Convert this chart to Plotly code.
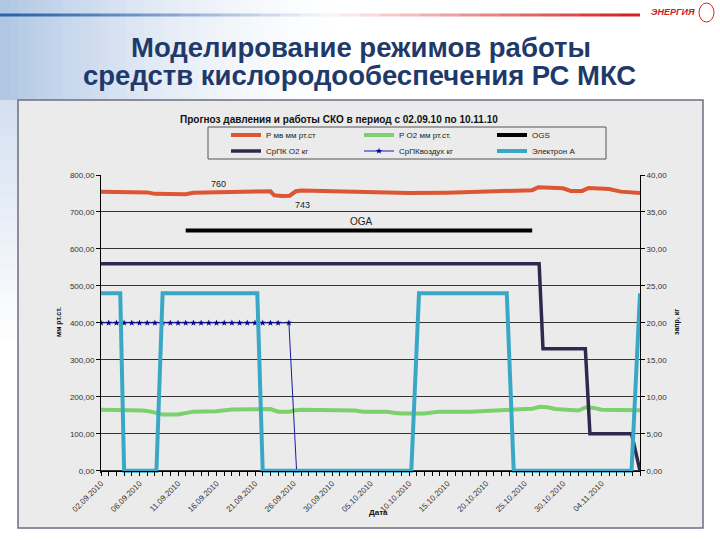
import plotly.graph_objects as go

# ---------------- data ----------------
tick_pos = [0, 5, 10, 15, 20, 25, 30, 35, 40, 45, 50, 55, 60, 65]
tick_labels = ["02.09.2010", "06.09.2010", "11.09.2010", "16.09.2010", "21.09.2010",
               "26.09.2010", "30.09.2010", "05.10.2010", "10.10.2010", "15.10.2010",
               "20.10.2010", "25.10.2010", "30.10.2010", "04.11.2010"]

# P мв, мм рт.ст. (left axis)
p_mv_x = [0, 5, 6, 7, 9, 11, 12, 15, 17, 22, 22.5, 23.5, 24.5, 25.3, 26, 30, 34, 37, 40,
          45, 50, 55, 56, 56.8, 58, 60, 61, 62.5, 63.3, 64, 66, 67.5, 68.5, 70]
p_mv_y = [755, 755, 753, 749, 748, 748, 752, 753, 756, 756, 745, 743, 744, 756, 758, 756,
          753, 751, 751, 752, 755, 758, 759, 767, 765, 764, 757, 757, 765, 764, 762, 755,
          753, 751]

# P O2, мм рт.ст. (left axis)
p_o2_x = [0, 5, 5.5, 6.5, 7.5, 8, 10, 11, 12, 15, 16, 17, 22, 22.6, 23, 24.5, 25, 26, 33,
          34, 37, 38, 39, 42, 43, 44, 48, 55, 56, 57, 58, 59, 61, 62, 63, 64, 65, 70]
p_o2_y = [165, 165, 163, 160, 155, 152, 152, 155, 160, 161, 163, 166, 167, 163, 160, 160,
          163, 165, 163, 160, 160, 157, 155, 155, 158, 160, 160, 166, 168, 173, 172, 167,
          165, 163, 172, 170, 165, 164]

# OGS (right axis)
ogs_x = [11, 56]
ogs_y = [32.5, 32.5]

# СрПК O2, кг (right axis)
srpk_o2_x = [0, 56.9, 57.4, 62.9, 63.5, 68.9, 70]
srpk_o2_y = [28, 28, 16.5, 16.5, 5, 5, 0]

# СрПК воздух, кг (right axis)
srpk_air_x = [0, 1, 2, 3, 4, 5, 6, 7, 8, 9, 10, 11, 12, 13, 14, 15, 16, 17, 18, 19, 20,
              21, 22, 23, 24.4, 25.4]
srpk_air_y = [20, 20, 20, 20, 20, 20, 20, 20, 20, 20, 20, 20, 20, 20, 20, 20, 20, 20, 20,
              20, 20, 20, 20, 20, 20, 0]

# Электрон А (right axis)
elektron_x = [0, 2.5, 3.0, 7.2, 8.0, 20.3, 21.0, 40.3, 41.3, 52.7, 53.6, 68.9, 70]
elektron_y = [24, 24, 0, 0, 24, 24, 0, 0, 24, 24, 0, 0, 24]

# ---------------- layout helpers ----------------
W, H = 720, 540
PL, PR, PT, PB = 101, 640, 175, 473
Y_LO, Y_HI = -6, 800


def px(x):
    return (x - PL) / (PR - PL)


def py(y):
    return (PB - y) / (PB - PT)


FONT = "Liberation Sans, Arial, sans-serif"

fig = go.Figure()

fig.add_trace(go.Scatter(x=p_mv_x, y=p_mv_y, name="Р мв мм рт.ст", mode="lines",
                         line=dict(color="#DC5633", width=4), legend="legend"))
fig.add_trace(go.Scatter(x=p_o2_x, y=p_o2_y, name="Р О2 мм рт.ст.", mode="lines",
                         line=dict(color="#7DD06E", width=4), legend="legend"))
fig.add_trace(go.Scatter(x=ogs_x, y=ogs_y, name="OGS", mode="lines", yaxis="y2",
                         line=dict(color="#000000", width=4), legend="legend"))
fig.add_trace(go.Scatter(x=srpk_o2_x, y=srpk_o2_y, name="СрПК О2 кг", mode="lines",
                         yaxis="y2", line=dict(color="#2E2A4F", width=3.5),
                         legend="legend2"))
fig.add_trace(go.Scatter(x=srpk_air_x, y=srpk_air_y, name="СрПКвоздух кг",
                         mode="lines+markers", yaxis="y2",
                         line=dict(color="#1A1AA8", width=1),
                         marker=dict(symbol="star", size=5, color="#000088"),
                         legend="legend2"))
fig.add_trace(go.Scatter(x=elektron_x, y=elektron_y, name="Электрон А", mode="lines",
                         yaxis="y2", line=dict(color="#3AA7C7", width=4),
                         legend="legend2"))

shapes = []
# slide background gradient (top-left)
n = 40
for i in range(n):
    x0 = i * 360 / n
    x1 = (i + 1) * 360 / n
    op = 0.55 * (1 - i / n) ** 1.8
    shapes.append(dict(type="rect", xref="paper", yref="paper",
                       x0=px(x0), x1=px(x1), y0=py(100), y1=py(0),
                       fillcolor="#7099CE", opacity=op, line=dict(width=0), layer="below"))
for i in range(20):
    y0 = 100 + i * 12
    op = 0.3 * (1 - i / 20)
    shapes.append(dict(type="rect", xref="paper", yref="paper",
                       x0=px(0), x1=px(18), y0=py(y0 + 12), y1=py(y0),
                       fillcolor="#7099CE", opacity=op, line=dict(width=0), layer="below"))
# top decorative line
m = 32
for i in range(m):
    x0 = i * 640 / m
    x1 = (i + 1) * 640 / m
    t = i / (m - 1)
    if t < 0.5:
        col, op = "#2F62A8", 1 - t / 0.5 * 0.95
    else:
        col, op = "#D42020", (t - 0.5) / 0.5
    shapes.append(dict(type="line", xref="paper", yref="paper",
                       x0=px(x0), x1=px(x1), y0=py(15), y1=py(15),
                       line=dict(color=col, width=3), opacity=max(op, 0.05), layer="below"))
shapes.append(dict(type="circle", xref="paper", yref="paper",
                   x0=px(699), x1=px(714), y0=py(22), y1=py(3),
                   line=dict(color="#D42020", width=1)))
# chart box
shapes.append(dict(type="rect", xref="paper", yref="paper",
                   x0=px(18), x1=px(703), y0=py(528), y1=py(100),
                   fillcolor="#EBEBEB", line=dict(color="#6E6E80", width=1.5), layer="below"))
# legend box
shapes.append(dict(type="rect", xref="paper", yref="paper",
                   x0=px(208), x1=px(606), y0=py(159), y1=py(127),
                   line=dict(color="#555555", width=1), layer="below"))

annotations = [
    dict(text="Моделирование режимов работы", x=px(361), y=py(47), xref="paper",
         yref="paper", showarrow=False, xanchor="center", yanchor="middle",
         font=dict(family=FONT, size=27.5, color="#1F3A6A", weight="bold")),
    dict(text="средств кислородообеспечения РС МКС", x=px(359), y=py(75), xref="paper",
         yref="paper", showarrow=False, xanchor="center", yanchor="middle",
         font=dict(family=FONT, size=27.5, color="#1F3A6A", weight="bold")),
    dict(text="<i><b>ЭНЕРГИЯ</b></i>", x=px(697), y=py(12), xref="paper", yref="paper",
         showarrow=False, xanchor="right", yanchor="middle",
         font=dict(family=FONT, size=9, color="#C81E1E")),
    dict(text="<b>Прогноз давления и работы СКО в период с 02.09.10 по 10.11.10</b>",
         x=px(339), y=py(119), xref="paper", yref="paper", showarrow=False,
         xanchor="center", yanchor="middle", font=dict(family=FONT, size=10, color="#111")),
    dict(text="760", x=15.3, y=777, xref="x", yref="y", showarrow=False,
         font=dict(family=FONT, size=9, color="#222")),
    dict(text="743", x=26.2, y=718, xref="x", yref="y", showarrow=False,
         font=dict(family=FONT, size=9, color="#222")),
    dict(text="OGA", x=33.8, y=673, xref="x", yref="y", showarrow=False,
         font=dict(family=FONT, size=10, color="#222")),
    dict(text="<b>мм рт.ст.</b>", x=px(53), y=py(322), xref="paper", yref="paper",
         showarrow=False, textangle=-90, font=dict(family=FONT, size=7, color="#111")),
    dict(text="<b>запр, кг</b>", x=px(683), y=py(322), xref="paper", yref="paper",
         showarrow=False, textangle=-90, font=dict(family=FONT, size=7, color="#111")),
    dict(text="<b>Дата</b>", x=px(378), y=py(519), xref="paper", yref="paper",
         showarrow=False, font=dict(family=FONT, size=8, color="#111")),
]

tickfont = dict(family=FONT, size=8, color="#333")
legfont = dict(family=FONT, size=8, color="#222")

fig.update_layout(
    width=W, height=H,
    margin=dict(l=PL, r=W - PR, t=PT, b=H - PB),
    paper_bgcolor="white",
    plot_bgcolor="rgba(0,0,0,0)",
    separators=", ",
    font=dict(family=FONT),
    shapes=shapes,
    annotations=annotations,
    xaxis=dict(range=[0, 70], tickmode="array", tickvals=tick_pos, ticktext=tick_labels,
               tickangle=-45, tickfont=tickfont, ticks="outside", ticklen=4,
               tickcolor="#000", showgrid=False, zeroline=False, showline=True,
               linecolor="#000", linewidth=1, anchor="free",
               position=(0 - Y_LO) / (Y_HI - Y_LO),
               minor=dict(dtick=1, tick0=0, ticks="outside", ticklen=4, tickcolor="#000",
                          showgrid=False)),
    yaxis=dict(range=[Y_LO, Y_HI], tick0=0, dtick=100, tickformat=".2f", tickfont=tickfont,
               ticks="outside", ticklen=4, tickcolor="#000", showline=True,
               linecolor="#000", linewidth=1, showgrid=True, gridcolor="#333",
               gridwidth=1, zeroline=False),
    yaxis2=dict(range=[Y_LO / 20, Y_HI / 20], tick0=0, dtick=5, tickformat=".2f",
                tickfont=tickfont, overlaying="y", side="right", ticks="outside",
                ticklen=4, tickcolor="#000", showline=True, linecolor="#000",
                linewidth=1, showgrid=False, zeroline=False),
    legend=dict(orientation="h", x=px(226), y=py(135), xanchor="left", yanchor="middle",
                entrywidth=88, entrywidthmode="pixels", bgcolor="rgba(0,0,0,0)",
                font=legfont, itemwidth=30, tracegroupgap=0),
    legend2=dict(orientation="h", x=px(226), y=py(151), xanchor="left", yanchor="middle",
                 entrywidth=88, entrywidthmode="pixels", bgcolor="rgba(0,0,0,0)",
                 font=legfont, itemwidth=30, tracegroupgap=0),
    showlegend=True,
)

fig.write_html("out.html")
